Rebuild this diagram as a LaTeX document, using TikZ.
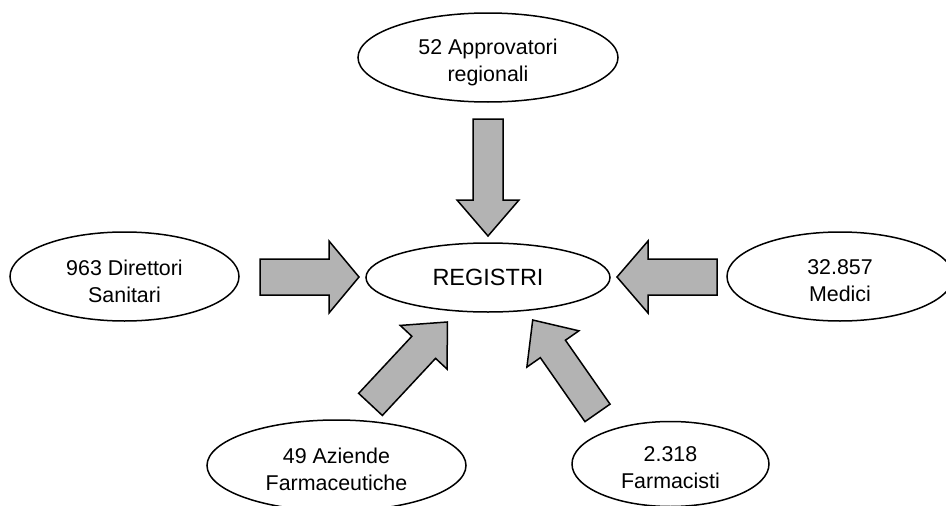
\documentclass[tikz,border=0pt]{standalone}
\usepackage{fontspec}
\setmainfont{Liberation Sans}
\usetikzlibrary{calc,shapes.geometric}
\definecolor{arrowgray}{RGB}{179,179,179}
\tikzset{
  ell/.style={draw=black, line width=1.5pt, ellipse, inner sep=0pt, fill=white},
  lbl/.style={align=center, font=\fontsize{21.4pt}{26.7pt}\selectfont, inner sep=0pt},
  biglbl/.style={font=\fontsize{23.5pt}{28pt}\selectfont, inner sep=0pt},
  blk/.style={draw=black, line width=1.5pt, fill=arrowgray, line join=miter},
}
% #1 base coordinate, #2 tip coordinate, #3 half shaft width, #4 half head width, #5 head length
\newcommand\blockarr[5]{%
  \coordinate (#1h) at ($(#2)!#5!(#1)$);
  \draw[blk] ($(#1)!#3!90:(#2)$) -- ($(#1h)!#3!90:(#2)$) -- ($(#1h)!#4!90:(#2)$) -- (#2)
    -- ($(#1h)!#4!-90:(#2)$) -- ($(#1h)!#3!-90:(#2)$) -- ($(#1)!#3!-90:(#2)$) -- cycle;
}
\begin{document}
\begin{tikzpicture}[x=1pt,y=-1pt]
  \useasboundingbox (0,0) rectangle (946,506);
  \clip (0,0) rectangle (946,506);
  % ellipses
  \node[ell, minimum width=260pt, minimum height=89pt] (app) at (488,57.5) {};
  \node[ell, minimum width=244pt, minimum height=69pt] (reg) at (488,277.5) {};
  \node[ell, minimum width=229pt, minimum height=89pt] (dir) at (124.5,276.5) {};
  \node[ell, minimum width=226pt, minimum height=89pt] (med) at (840,276.5) {};
  \node[ell, minimum width=259pt, minimum height=91pt] (az) at (336.5,465.5) {};
  \node[ell, minimum width=197pt, minimum height=85pt] (far) at (670.5,464) {};
  % texts
  \node[lbl] (appt) at ($(app.center)+(0,5)$) {52 Approvatori\\regionali};
  \node[biglbl] (regt) at (reg.center) {REGISTRI};
  \node[lbl] (dirt) at ($(dir.center)+(0,4.5)$) {963 Direttori\\Sanitari};
  \node[lbl] (medt) at ($(med.center)+(0,4)$) {32.857\\Medici};
  \node[lbl] (azt) at ($(az.center)+(0,3.5)$) {49 Aziende\\Farmaceutiche};
  \node[lbl] (fart) at ($(far.center)+(0,3.5)$) {2.318\\Farmacisti};
  % arrow end points
  \coordinate (aT) at (488,119);   \coordinate (bT) at (488,236);
  \coordinate (aL) at (260,277);   \coordinate (bL) at (359,277);
  \coordinate (aR) at (717,277);   \coordinate (bR) at (617,277);
  \coordinate (aBL) at (370.5,404.4); \coordinate (bBL) at (447.3,322);
  \coordinate (aBR) at (597.5,412.9); \coordinate (bBR) at (532.7,320);
  % block arrows
  \blockarr{aT}{bT}{15pt}{31pt}{36pt}
  \blockarr{aL}{bL}{18pt}{36pt}{30pt}
  \blockarr{aR}{bR}{18pt}{36pt}{31pt}
  \blockarr{aBL}{bBL}{16.2pt}{32.1pt}{34.6pt}
  \blockarr{aBR}{bBR}{15.3pt}{31.7pt}{35.3pt}
\end{tikzpicture}
\end{document}
